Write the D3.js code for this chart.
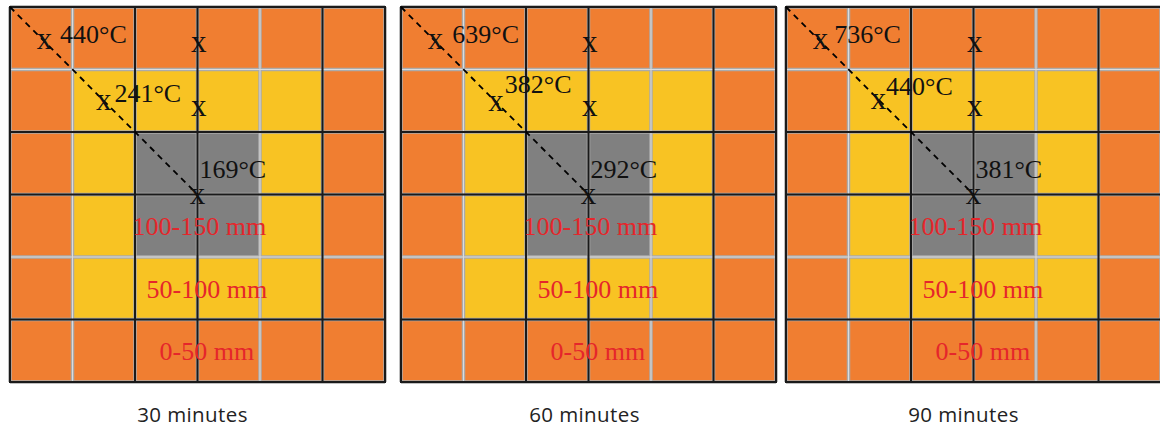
<!DOCTYPE html>
<html><head><meta charset="utf-8">
<script src="https://cdn.jsdelivr.net/npm/d3@7"></script>
<style>body{margin:0;background:#fff}svg{display:block}</style>
</head><body>
<svg id="c" width="1160" height="428"></svg>
<script>
// ---- data ----
const panelTitles = ["30 minutes", "60 minutes", "90 minutes"];
const cornerTemps = [440, 639, 736];   // outer zone (0-50 mm)
const middleTemps = [241, 382, 440];   // middle zone (50-100 mm)
const centerTemps = [169, 292, 381];   // core (100-150 mm)
const zoneLabels = ["0-50 mm", "50-100 mm", "100-150 mm"];
const zoneColors = ["#f07e31", "#f8c323", "#808080"];
const gridN = 6;
const majorLines = [0, 2, 3, 5, 6];
const allLines = d3.range(gridN + 1);

const svg = d3.select("#c");
const panelLeft = [10, 401, 786];
const panelSize = 375, panelTop = 7;

panelTitles.forEach((title, p) => {
  const x = d3.scaleLinear().domain([0, gridN]).range([panelLeft[p], panelLeft[p] + panelSize]);
  const y = d3.scaleLinear().domain([0, gridN]).range([panelTop, panelTop + panelSize]);
  const g = svg.append("g");
  const cells = [];
  for (let r = 0; r < gridN; r++) for (let c = 0; c < gridN; c++)
    cells.push({r, c, z: Math.min(r, c, gridN - 1 - r, gridN - 1 - c)});
  g.selectAll("rect.cell").data(cells).join("rect")
    .attr("x", d => x(d.c)).attr("y", d => y(d.r))
    .attr("width", x(1) - x(0)).attr("height", y(1) - y(0))
    .attr("fill", d => zoneColors[d.z]);
  // light grey cell borders
  ["#ababab", "#dcdcdc"].forEach((col, k) => {
    g.selectAll("line.gv" + k).data(allLines).join("line")
      .attr("x1", d => x(d)).attr("x2", d => x(d)).attr("y1", y(0)).attr("y2", y(gridN))
      .attr("stroke", col).attr("stroke-width", k ? 1 : 3.5);
    g.selectAll("line.gh" + k).data(allLines).join("line")
      .attr("y1", d => y(d)).attr("y2", d => y(d)).attr("x1", x(0)).attr("x2", x(gridN))
      .attr("stroke", col).attr("stroke-width", k ? 1 : 3.5);
  });
  // dark grid lines
  g.selectAll("line.mv").data(majorLines).join("line")
    .attr("x1", d => x(d)).attr("x2", d => x(d)).attr("y1", y(0) - 1).attr("y2", y(gridN) + 1)
    .attr("stroke", "#1a1a1a").attr("stroke-width", 2);
  g.selectAll("line.mh").data(majorLines).join("line")
    .attr("y1", d => y(d)).attr("y2", d => y(d)).attr("x1", x(0) - 1).attr("x2", x(gridN) + 1)
    .attr("stroke", "#1a1a1a").attr("stroke-width", 2);
  // diagonal dashed line
  g.append("line").attr("x1", x(0)).attr("y1", y(0)).attr("x2", x(3)).attr("y2", y(3))
    .attr("stroke", "#000").attr("stroke-width", 1.8).attr("stroke-dasharray", "6,5");
  // markers
  const m2 = [1.5, 1.52, 1.48][p];
  const marks = [[0.55, 0.5], [m2, m2 - 0.02], [3, 2.98], [3.02, 0.55], [3.02, 1.57]];
  g.selectAll("text.mk").data(marks).join("text")
    .attr("x", d => x(d[0])).attr("y", d => y(d[1]))
    .attr("text-anchor", "middle").attr("dominant-baseline", "central")
    .attr("font-family", "Liberation Serif, Times New Roman, serif").attr("font-size", 31)
    .attr("fill", "#111").text("x");
  // temperature labels
  const temps = [
    {v: cornerTemps[p], gx: [0.8, 0.82, 0.77][p], gy: 0.58},
    {v: middleTemps[p], gx: [1.67, 1.66, 1.6][p], gy: [1.52, 1.37, 1.41][p]},
    {v: centerTemps[p], gx: 3.03, gy: 2.74}
  ];
  g.selectAll("text.t").data(temps).join("text")
    .attr("x", d => x(d.gx)).attr("y", d => y(d.gy))
    .attr("font-family", "Liberation Serif, Times New Roman, serif").attr("font-size", 26)
    .attr("fill", "#111").text(d => d.v + "°C");
  // zone labels
  const zl = [{t: zoneLabels[2], gx: 3.03, gy: 3.65}, {t: zoneLabels[1], gx: 3.15, gy: 4.66}, {t: zoneLabels[0], gx: 3.15, gy: 5.65}];
  g.selectAll("text.z").data(zl).join("text")
    .attr("x", d => x(d.gx)).attr("y", d => y(d.gy)).attr("text-anchor", "middle")
    .attr("font-family", "Liberation Serif, Times New Roman, serif").attr("font-size", 26)
    .attr("fill", "#e5262b").text(d => d.t);
  // panel title
  g.append("text").attr("x", x(3) - [5, 4, 10][p]).attr("y", 422).attr("text-anchor", "middle")
    .attr("font-family", "Open Sans, sans-serif").attr("font-size", 20.5)
    .attr("letter-spacing", 0.4)
    .attr("fill", "#222").text(title);
});
</script>
</body></html>
